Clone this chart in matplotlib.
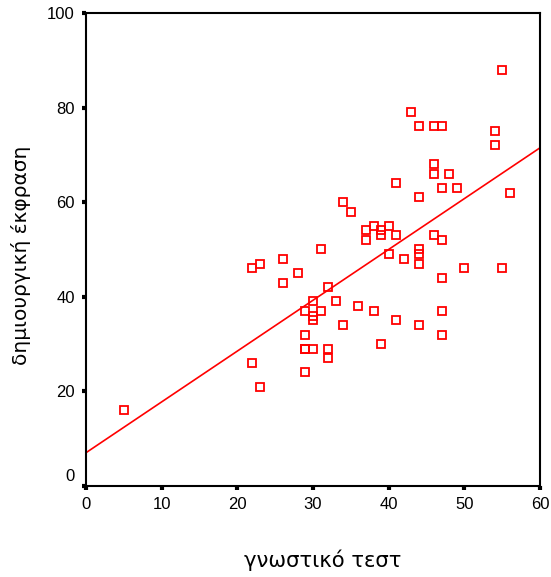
import numpy as np
import matplotlib
matplotlib.use('Agg')
from matplotlib import pyplot as plt
import matplotlib.transforms as mtransforms

plt.rcParams['font.family'] = ['Liberation Sans', 'DejaVu Sans']

# γνωστικό τεστ (x) / δημιουργική έκφραση (y)
test = [5, 22, 22, 23, 23, 26, 26, 28, 29, 29, 29, 29, 29, 30, 30, 30, 30, 31, 31,
        32, 32, 32, 33, 34, 34, 35, 36, 37, 37, 38, 38, 39, 39, 39, 40, 40, 41, 41,
        41, 42, 43, 44, 44, 44, 44, 44, 44, 46, 47, 46, 46, 46, 47, 47, 47, 47, 47,
        48, 49, 50, 54, 54, 55, 55, 56]
expr = [16, 46, 26, 47, 21, 48, 43, 45, 37, 32, 29, 29, 24, 39, 36, 35, 29, 50, 37,
        42, 29, 27, 39, 60, 34, 58, 38, 54, 52, 55, 37, 54, 53, 30, 55, 49, 64, 53,
        35, 48, 79, 76, 61, 50, 49, 47, 34, 76, 76, 68, 66, 53, 63, 52, 44, 37, 32,
        66, 63, 46, 75, 72, 88, 46, 62]
xticks = [0, 10, 20, 30, 40, 50, 60]
yticks = [0, 20, 40, 60, 80, 100]

fig = plt.figure(figsize=(5.51, 5.77), dpi=100)
ax = fig.add_axes([0.156, 0.158, 0.824, 0.8195])

ax.plot(test, expr, 's', ms=6, mfc='none', mec='#ff0000', mew=1.3, ls='none')

b, a = np.polyfit(test, expr, 1)
xs = np.array([0, 60])
ax.plot(xs, a + b * xs, color='#ff0000', lw=1.2)

ax.set_xlim(0, 60)
ax.set_ylim(0, 100)
ax.set_xticks(xticks)
ax.set_yticks(yticks)
ax.tick_params(direction='out', length=3, width=3, labelsize=12, pad=5, color='black')
for s in ax.spines.values():
    s.set_linewidth(1.5)
    s.set_color('black')

# SPSS puts the 0 label on y a bit above its tick
lab0 = ax.get_yticklabels()[0]
lab0.set_transform(lab0.get_transform() + mtransforms.ScaledTranslation(0, 8 / 72, fig.dpi_scale_trans))

ax.set_xlabel('γνωστικό τεστ', fontsize=15.2, family='DejaVu Sans', va='center')
ax.set_ylabel('δημιουργική έκφραση', fontsize=14.5, family='DejaVu Sans', va='center')
ax.xaxis.set_label_coords(0.521, -0.157)
ax.yaxis.set_label_coords(-0.143, 0.488)

fig.savefig('out.png', dpi=100)
